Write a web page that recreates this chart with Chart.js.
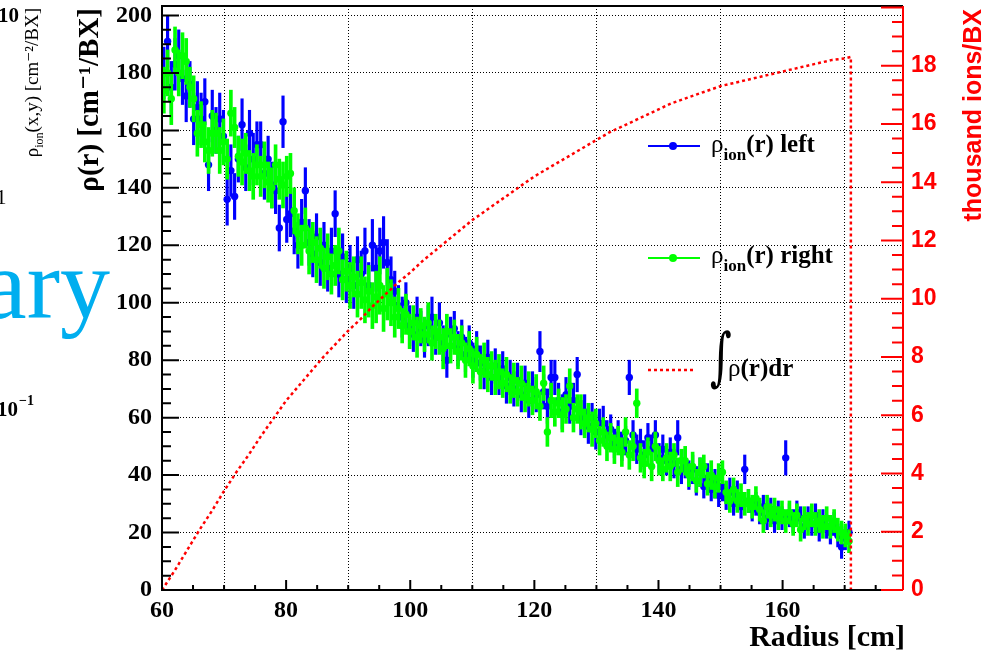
<!DOCTYPE html>
<html>
<head>
<meta charset="utf-8">
<title>Ion density vs radius</title>
<script src="https://cdn.jsdelivr.net/npm/chart.js@4.4.1/dist/chart.umd.min.js"></script>
<style>
    html, body { margin: 0; padding: 0; background: #fff; }
    canvas { display: block; }
</style>
</head>
<body>
<canvas id="ionChart" width="997" height="654"></canvas>
<script>
'use strict';

// histogram binning in radius [cm]
const BIN_START = 60;
const BIN_WIDTH = 0.6;

// rho_ion(r) left (blue)
const leftRho = [
    180, 191, 175, 183, 186, 178, 172, 176, 164, 168,
    164, 170, 148, 165, 160, 164, 158, 136, 146, 137,
    150, 162, 147, 159, 150, 155, 155, 145, 150, 141,
    139, 126, 163, 129, 131, 125, 120, 128, 139, 121,
    117, 123, 114, 120, 112, 118, 131, 110, 116, 108,
    112, 106, 115, 110, 118, 106, 120, 112, 118, 121,
    114, 108, 104, 99, 95, 100, 92, 89, 95, 91,
    87, 92, 95, 88, 93, 86, 80, 89, 91, 84,
    88, 82, 86, 80, 84, 79, 76, 81, 74, 78,
    74, 77, 71, 74, 70, 73, 68, 72, 66, 70,
    68, 83, 69, 64, 74, 74, 66, 62, 68, 64,
    66, 75, 60, 62, 57, 60, 55, 58, 58, 54,
    56, 51, 54, 50, 52, 74, 54, 49, 51, 47,
    53, 49, 54, 46, 49, 45, 48, 44, 53, 42,
    44, 40, 42, 38, 41, 36, 39, 35, 37, 33,
    36, 32, 34, 30, 33, 29, 42, 31, 28, 30,
    27, 29, 25, 28, 24, 27, 25, 46, 26, 24,
    27, 25, 22, 25, 23, 26, 21, 24, 22, 20,
    23, 19, 15, 18, 20
];
const leftErr = [
    9, 9, 9, 9, 9, 9, 9, 8, 9, 9,
    9, 8, 9, 9, 8, 9, 9, 9, 9, 8,
    8, 9, 8, 8, 9, 8, 8, 9, 8, 8,
    8, 8, 9, 8, 8, 8, 8, 8, 8, 8,
    8, 8, 8, 8, 8, 8, 8, 8, 8, 8,
    8, 8, 8, 8, 8, 8, 9, 8, 8, 9,
    8, 8, 7, 7, 7, 7, 7, 6, 7, 6,
    6, 7, 7, 6, 7, 6, 6, 6, 6, 6,
    6, 6, 6, 6, 6, 6, 6, 6, 6, 6,
    6, 6, 6, 6, 6, 6, 6, 6, 6, 6,
    6, 7, 6, 6, 6, 6, 6, 6, 6, 6,
    6, 6, 6, 6, 6, 5, 6, 5, 6, 5,
    5, 5, 5, 5, 5, 6, 5, 5, 5, 5,
    5, 5, 5, 5, 5, 5, 5, 5, 6, 5,
    5, 5, 5, 5, 5, 4, 5, 4, 5, 4,
    5, 4, 5, 4, 5, 4, 5, 4, 4, 4,
    4, 4, 4, 4, 4, 4, 4, 6, 4, 4,
    4, 4, 4, 4, 4, 4, 4, 4, 4, 4,
    4, 4, 4, 4, 4
];

// rho_ion(r) right (green)
const rightRho = [
    174, 180, 171, 188, 180, 186, 184, 175, 171, 159,
    162, 156, 153, 159, 159, 153, 156, 150, 166, 161,
    151, 149, 152, 146, 144, 148, 144, 148, 142, 140,
    148, 143, 141, 144, 145, 132, 124, 120, 126, 118,
    121, 115, 119, 112, 116, 110, 113, 118, 108, 111,
    106, 109, 103, 107, 101, 104, 99, 102, 106, 98,
    103, 100, 95, 98, 92, 96, 90, 93, 88, 92,
    89, 93, 86, 90, 88, 84, 90, 85, 88, 83,
    86, 80, 84, 78, 82, 76, 80, 75, 78, 74,
    76, 72, 75, 70, 73, 69, 72, 67, 70, 66,
    69, 64, 72, 55, 66, 62, 65, 61, 63, 71,
    60, 63, 62, 58, 60, 56, 58, 52, 55, 50,
    53, 49, 52, 48, 55, 47, 50, 65, 46, 44,
    48, 43, 50, 45, 42, 46, 43, 47, 41, 45,
    45, 40, 43, 38, 41, 43, 37, 40, 36, 39,
    41, 34, 31, 35, 31, 33, 30, 31, 29, 32,
    28, 24, 29, 26, 28, 25, 27, 24, 27, 23,
    26, 21, 25, 23, 26, 23, 24, 22, 25, 22,
    24, 21, 20, 19, 17
];
const rightErr = [
    8, 8, 9, 8, 8, 8, 8, 7, 8, 8,
    8, 7, 8, 8, 7, 8, 8, 7, 8, 7,
    7, 8, 7, 7, 8, 7, 7, 8, 7, 7,
    7, 7, 8, 7, 7, 8, 7, 7, 7, 8,
    7, 8, 7, 7, 8, 7, 7, 8, 7, 7,
    8, 7, 8, 9, 8, 9, 8, 9, 10, 8,
    9, 8, 7, 7, 6, 7, 6, 6, 7, 6,
    6, 7, 6, 6, 6, 7, 6, 6, 6, 6,
    6, 6, 6, 6, 6, 6, 6, 6, 5, 6,
    6, 5, 6, 5, 6, 5, 6, 5, 6, 5,
    6, 5, 6, 5, 6, 5, 5, 6, 5, 6,
    5, 5, 6, 5, 5, 6, 5, 5, 5, 5,
    5, 5, 5, 5, 5, 5, 5, 5, 5, 5,
    5, 5, 5, 5, 4, 5, 5, 4, 5, 4,
    5, 4, 5, 4, 5, 4, 4, 5, 4, 5,
    4, 4, 4, 4, 4, 4, 4, 4, 4, 4,
    4, 4, 4, 4, 4, 4, 4, 4, 4, 4,
    4, 4, 4, 4, 4, 4, 4, 4, 4, 4,
    4, 4, 4, 4, 4
];

// integral of rho(r) dr, thousand ions/BX (red, right axis)
const intRadius = [
    60, 62, 64, 66, 68, 70, 72, 74, 76, 78,
    80, 82, 84, 86, 88, 90, 92, 94, 96, 98,
    100, 102, 104, 106, 108, 110, 112, 114, 116, 118,
    120, 122, 124, 126, 128, 130, 132, 134, 136, 138,
    140, 142, 144, 146, 148, 150, 152, 154, 156, 158,
    160, 162, 164, 166, 168, 170, 171, 171
];
const intIons = [
    0, 0.65, 1.35, 2.05, 2.7, 3.4, 4.05, 4.65, 5.3, 5.9,
    6.5, 7.0, 7.5, 8.0, 8.45, 8.9, 9.3, 9.75, 10.15, 10.55,
    10.9, 11.3, 11.65, 12.0, 12.35, 12.7, 13.0, 13.3, 13.6, 13.9,
    14.2, 14.45, 14.7, 14.95, 15.2, 15.45, 15.7, 15.9, 16.1, 16.3,
    16.5, 16.7, 16.85, 17.0, 17.15, 17.3, 17.4, 17.5, 17.6, 17.7,
    17.8, 17.9, 18.0, 18.1, 18.2, 18.25, 18.3, 0
];

// tick labels
const xTicks = [60, 80, 100, 120, 140, 160];
const yTicks = [0, 20, 40, 60, 80, 100, 120, 140, 160, 180, 200];
const y2Ticks = [0, 2, 4, 6, 8, 10, 12, 14, 16, 18];

const SERIF = '"Liberation Serif", "DejaVu Serif", serif';
const SANS = '"Liberation Sans", Arial, sans-serif';
const BLUE = '#0000ff';
const GREEN = '#00ff00';
const RED = '#ff0000';

function binCentre(i) {
    return BIN_START + BIN_WIDTH * (i + 0.5);
}

function toPoints(vals) {
    return vals.map((v, i) => ({ x: binCentre(i), y: v }));
}

function toErrorBars(vals, errs) {
    return vals.map((v, i) => ({ x: binCentre(i), y: [v - errs[i], v + errs[i]] }));
}

/** rho with "ion" subscript followed by a tail */
function drawRho(ctx, x, y, tail, size) {
    ctx.font = size + 'px ' + SERIF;
    ctx.fillText('ρ', x, y);
    let cx = x + ctx.measureText('ρ').width;
    ctx.font = 'bold ' + Math.round(size * 0.68) + 'px ' + SERIF;
    ctx.fillText('ion', cx, y + size * 0.3);
    cx += ctx.measureText('ion').width;
    ctx.font = 'bold ' + size + 'px ' + SERIF;
    ctx.fillText(tail, cx, y);
}

/** frame and inward ticks, ROOT style */
const frameTicks = {
    id: 'frameTicks',
    afterDatasetsDraw(chart) {
        const { ctx, chartArea: a, scales } = chart;
        const x = scales.x, y = scales.y, y2 = scales.y2;
        ctx.save();
        ctx.lineWidth = 2;
        ctx.strokeStyle = '#000';
        ctx.beginPath();
        ctx.moveTo(a.right, a.top);
        ctx.lineTo(a.left, a.top);
        ctx.lineTo(a.left, a.bottom);
        ctx.lineTo(a.right, a.bottom);
        for (let v = 0; v <= y.max; v += 5) {
            const py = y.getPixelForValue(v);
            ctx.moveTo(a.left, py);
            ctx.lineTo(a.left + (v % 20 === 0 ? 17 : 9), py);
        }
        for (let v = 60; v <= x.max; v += 5) {
            const px = x.getPixelForValue(v);
            ctx.moveTo(px, a.bottom);
            ctx.lineTo(px, a.bottom - (v % 20 === 0 ? 10 : 5));
        }
        ctx.stroke();

        ctx.strokeStyle = RED;
        ctx.beginPath();
        ctx.moveTo(a.right, a.top);
        ctx.lineTo(a.right, a.bottom);
        for (let v = 0; v <= y2.max + 1e-6; v += 0.5) {
            const py = y2.getPixelForValue(v);
            ctx.moveTo(a.right, py);
            ctx.lineTo(a.right - (v % 2 === 0 ? 22 : 11), py);
        }
        ctx.stroke();
        ctx.restore();
    },
    afterDraw(chart) {
        const { ctx, chartArea: a } = chart;
        ctx.save();
        ctx.textBaseline = 'alphabetic';

        // leftovers of the neighbouring pad
        ctx.fillStyle = '#000';
        ctx.textAlign = 'left';
        ctx.font = 'bold 21px ' + SERIF;
        ctx.fillText('10', -2, 22);
        ctx.fillText('10', -3, 416);
        ctx.font = 'bold 14px ' + SERIF;
        ctx.fillText('−1', 19, 405);
        ctx.font = '21px ' + SERIF;
        ctx.fillText('1', -4, 204);

        ctx.save();
        ctx.translate(38, 8);
        ctx.rotate(-Math.PI / 2);
        ctx.textAlign = 'right';
        ctx.font = '19px ' + SERIF;
        ctx.fillText('(x,y) [cm⁻²/BX]', 0, 0);
        const w1 = ctx.measureText('(x,y) [cm⁻²/BX]').width;
        ctx.font = '12px ' + SERIF;
        const w2 = ctx.measureText('ion').width;
        ctx.fillText('ion', -w1, 5);
        ctx.font = '19px ' + SERIF;
        ctx.fillText('ρ', -w1 - w2, 0);
        ctx.restore();

        ctx.fillStyle = '#00aeef';
        ctx.textAlign = 'right';
        ctx.font = '100px ' + SERIF;
        ctx.fillText('ary', 110, 318);

        // axis titles
        ctx.fillStyle = '#000';
        ctx.textAlign = 'right';
        ctx.font = 'bold 30px ' + SERIF;
        ctx.fillText('Radius [cm]', a.right + 2, 646);

        ctx.save();
        ctx.translate(98, 8);
        ctx.rotate(-Math.PI / 2);
        ctx.font = 'bold 29px ' + SERIF;
        ctx.fillText('ρ(r) [cm⁻¹/BX]', 0, 0);
        ctx.restore();

        ctx.save();
        ctx.translate(981, 9);
        ctx.rotate(-Math.PI / 2);
        ctx.fillStyle = RED;
        ctx.font = 'bold 25px ' + SANS;
        ctx.fillText('thousand ions/BX', 0, 0);
        ctx.restore();

        // legend
        ctx.lineWidth = 2;
        [[146, BLUE], [258, GREEN]].forEach(([ly, col]) => {
            ctx.strokeStyle = col;
            ctx.fillStyle = col;
            ctx.beginPath();
            ctx.moveTo(648, ly);
            ctx.lineTo(700, ly);
            ctx.stroke();
            ctx.beginPath();
            ctx.arc(673, ly, 4, 0, Math.PI * 2);
            ctx.fill();
        });
        ctx.strokeStyle = RED;
        ctx.lineWidth = 2.5;
        ctx.setLineDash([3, 3]);
        ctx.beginPath();
        ctx.moveTo(648, 370);
        ctx.lineTo(696, 370);
        ctx.stroke();
        ctx.setLineDash([]);

        ctx.fillStyle = '#000';
        ctx.textAlign = 'left';
        drawRho(ctx, 711, 152, '(r) left', 25);
        drawRho(ctx, 711, 263, '(r) right', 25);

        ctx.save();
        ctx.translate(710, 378);
        ctx.scale(1, 1.5);
        ctx.font = '42px "DejaVu Serif", serif';
        ctx.fillText('∫', 0, 0);
        ctx.restore();
        ctx.font = '25px ' + SERIF;
        ctx.fillText('ρ', 728, 376);
        const rw = ctx.measureText('ρ').width;
        ctx.font = 'bold 25px ' + SERIF;
        ctx.fillText('(r)dr', 728 + rw, 376);

        ctx.restore();
    }
};

function init() {
    const canvas = document.getElementById('ionChart');
    const tickFont = { family: SERIF, size: 24, weight: 'bold' };

    new Chart(canvas, {
        type: 'scatter',
        data: {
            datasets: [
                {
                    type: 'line',
                    label: 'integral',
                    data: intRadius.map((r, i) => ({ x: r, y: intIons[i] })),
                    yAxisID: 'y2',
                    borderColor: RED,
                    borderWidth: 2.5,
                    borderDash: [3, 3],
                    pointRadius: 0,
                    fill: false,
                    tension: 0,
                    order: 0
                },
                {
                    label: 'right',
                    data: toPoints(rightRho),
                    backgroundColor: GREEN,
                    borderWidth: 0,
                    pointRadius: 3.7,
                    order: 1
                },
                {
                    type: 'bar',
                    label: 'right err',
                    data: toErrorBars(rightRho, rightErr),
                    backgroundColor: GREEN,
                    barThickness: 3,
                    grouped: false,
                    order: 2
                },
                {
                    label: 'left',
                    data: toPoints(leftRho),
                    backgroundColor: BLUE,
                    borderWidth: 0,
                    pointRadius: 3.7,
                    order: 3
                },
                {
                    type: 'bar',
                    label: 'left err',
                    data: toErrorBars(leftRho, leftErr),
                    backgroundColor: BLUE,
                    barThickness: 2.5,
                    grouped: false,
                    order: 4
                }
            ]
        },
        options: {
            responsive: false,
            devicePixelRatio: 1,
            animation: false,
            events: [],
            layout: { padding: { top: 6, left: 0, right: 0, bottom: 0 } },
            plugins: { legend: { display: false }, tooltip: { enabled: false } },
            scales: {
                x: {
                    type: 'linear',
                    min: 60,
                    max: 179.4,
                    offset: false,
                    afterBuildTicks: s => { s.ticks = xTicks.map(v => ({ value: v })); },
                    afterFit: s => { s.height = 64; s.paddingLeft = 0; s.paddingRight = 0; },
                    grid: { color: '#000', lineWidth: 1, drawTicks: false },
                    border: { display: false, dash: [1, 2] },
                    ticks: { font: tickFont, color: '#000', padding: 6, maxRotation: 0, autoSkip: false }
                },
                y: {
                    type: 'linear',
                    position: 'left',
                    min: 0,
                    max: 203.3,
                    afterBuildTicks: s => { s.ticks = yTicks.map(v => ({ value: v })); },
                    afterFit: s => { s.width = 162; s.paddingTop = 0; s.paddingBottom = 0; },
                    grid: { color: '#000', lineWidth: 1, drawTicks: false },
                    border: { display: false, dash: [1, 2] },
                    ticks: { font: tickFont, color: '#000', padding: 10, autoSkip: false }
                },
                y2: {
                    type: 'linear',
                    position: 'right',
                    min: 0,
                    max: 20.05,
                    afterBuildTicks: s => { s.ticks = y2Ticks.map(v => ({ value: v })); },
                    afterFit: s => { s.width = 94; s.paddingTop = 0; s.paddingBottom = 0; },
                    grid: { display: false, drawTicks: false },
                    border: { display: false },
                    ticks: { font: { family: SANS, size: 23, weight: 'bold' }, color: RED, padding: 8, autoSkip: false }
                }
            }
        },
        plugins: [frameTicks]
    });
}

if (document.readyState === 'loading') {
    document.addEventListener('DOMContentLoaded', init);
} else {
    init();
}
</script>
</body>
</html>
